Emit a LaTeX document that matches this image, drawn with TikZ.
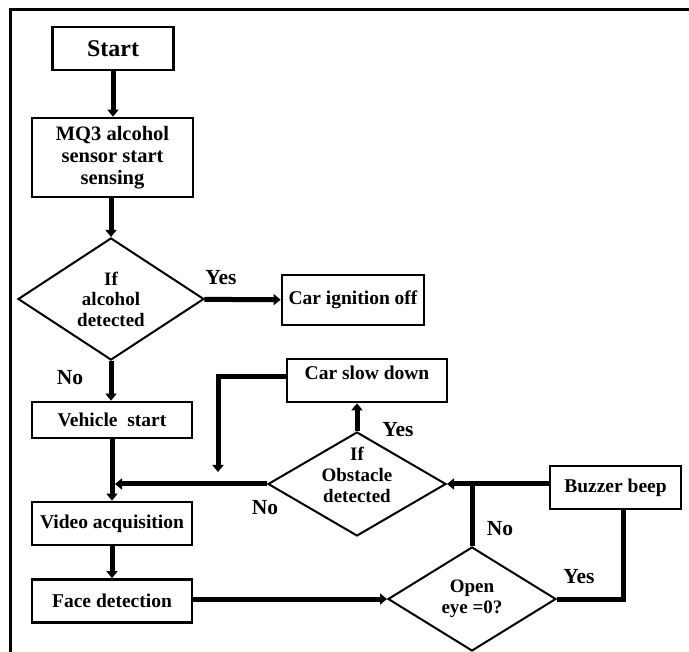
\documentclass[tikz,border=0pt]{standalone}
\usepackage{fontspec}
\setmainfont{Liberation Serif}
\usetikzlibrary{shapes.geometric,arrows.meta}
\begin{document}
\begin{tikzpicture}[x=1pt,y=-1pt,
  box/.style={draw,line width=2.7pt,inner sep=0pt,font=\bfseries\fontsize{19.5}{21}\selectfont,align=center},
  dec/.style={draw,diamond,line width=2pt,inner sep=0pt,font=\bfseries\fontsize{19}{20.5}\selectfont,align=center},
  dtext/.style={inner sep=0pt,font=\bfseries\fontsize{19}{21}\selectfont,align=center},
  conn/.style={line width=5pt},
  arr/.style={conn,-{Triangle[length=7pt,width=11pt]}},
  lab/.style={font=\bfseries\fontsize{21.5}{21.5}\selectfont}]
\useasboundingbox (0,0) rectangle (689,652);
\draw[line width=3pt] (10,700) -- (10,10) -- (720,10);
% boxes
\node (start) [box,minimum width=121,minimum height=43,font=\bfseries\fontsize{24}{24}\selectfont] at (113,48.5) {Start};
\node (mq3) [box,minimum width=161,minimum height=79,font=\bfseries\fontsize{20.5}{22}\selectfont] at (112.5,157.5) {MQ3 alcohol\\sensor start\\sensing};
\node (d1) [dec,minimum width=186,minimum height=118] at (111,299) {If\\alcohol\\detected};
\node (ign) [box,minimum width=142,minimum height=50] at (353,300) {Car ignition off};
\node (veh) [box,minimum width=160,minimum height=36] at (112,420) {Vehicle\ \ start};
\node (vid) [box,minimum width=160,minimum height=43] at (112,523.5) {Video acquisition};
\node (face) [box,minimum width=160,minimum height=43] at (112,601) {Face detection};
\node (slow) [box,minimum width=160,minimum height=43,text depth=16pt] at (367,380.5) {Car slow down};
\node (d2) [dec,minimum width=178,minimum height=104] at (357,484) {};
\node (d2t) [dtext] at ([yshift=9]d2.center) {If\\Obstacle\\detected};
\node (buzz) [box,minimum width=131,minimum height=43] at (615.5,487.5) {Buzzer beep};
\node (d3) [dec,minimum width=168,minimum height=104] at (472,599) {Open\\eye =0?};
% connectors
\coordinate (j1) at ([xshift=3]vid.north |- d2.west);
\coordinate (c1) at (218,472);
\draw[arr] (start.south) -- (start.south |- mq3.north);
\draw[arr] (mq3.south -| d1.north) -- (d1.north);
\draw[arr] (d1) -- (ign);
\draw[arr] (d1.south) -- (d1.south |- veh.north);
\draw[arr] (veh) -- (vid);
\draw[arr] (vid) -- (face);
\draw[arr] (d2.west) -- (j1);
\draw[arr] (d2.north) -- (d2.north |- slow.south);
\draw[arr] ([yshift=3.5]slow.west) -| (c1);
\draw[arr] (buzz.west |- d2.east) -- (d2.east);
\draw[conn] (d3.north) -- (d3.north |- d2.east);
\draw[conn] (d3.east) -| ([xshift=7.5]buzz.south);
\draw[arr] (face.east |- d3.west) -- (d3.west);
% labels
\node[lab] (y1) at (221,278) {Yes};
\node[lab] (n1) at (70,378) {No};
\node[lab] (y2) at (398,430) {Yes};
\node[lab] (n2) at (265,508) {No};
\node[lab] (n3) at (500,529) {No};
\node[lab] (y3) at (579,577) {Yes};
\end{tikzpicture}
\end{document}
